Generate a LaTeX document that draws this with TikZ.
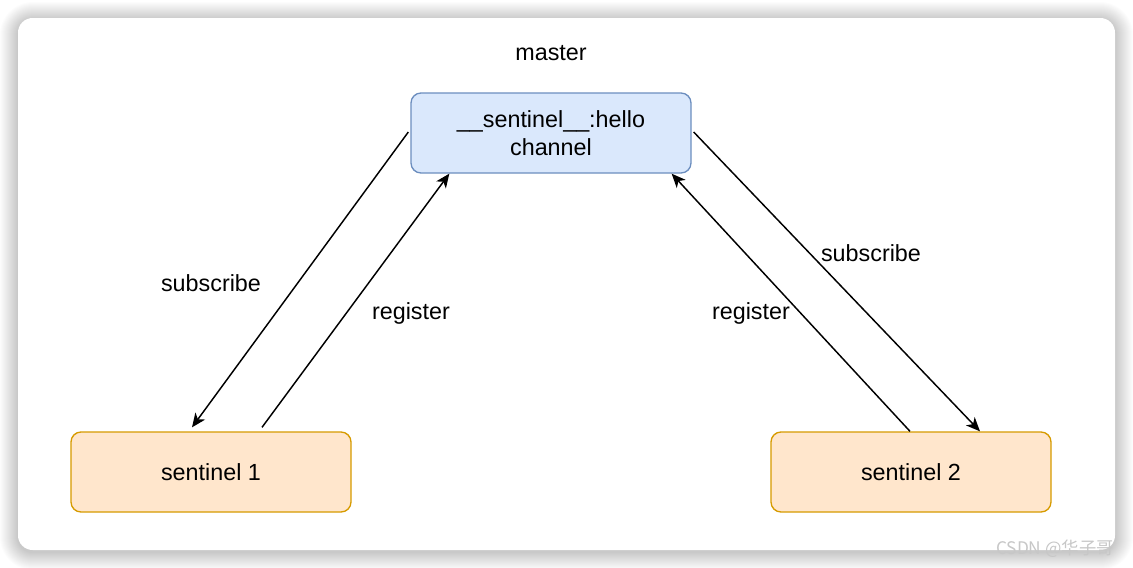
\documentclass[tikz,border=0pt]{standalone}
\usepackage{fontspec}
\setmainfont{Liberation Sans}
\newfontfamily\cjk{Noto Sans CJK SC}
\usetikzlibrary{arrows.meta,calc}
\definecolor{mfill}{HTML}{DAE8FC}
\definecolor{mdraw}{HTML}{6C8EBF}
\definecolor{sfill}{HTML}{FFE6CC}
\definecolor{sdraw}{HTML}{D79B00}
\tikzset{
  lbl/.style={font=\fontsize{17.5}{20}\selectfont, text=black, inner sep=0pt},
  masterbox/.style={draw=mdraw, fill=mfill, line width=1pt, rounded corners=7.5pt,
    minimum width=210pt, minimum height=60pt, inner sep=0pt, align=center,
    font=\fontsize{17.5}{20.5}\selectfont},
  sentbox/.style={draw=sdraw, fill=sfill, line width=1pt, rounded corners=7.5pt,
    minimum width=210pt, minimum height=60pt, inner sep=0pt, align=center,
    font=\fontsize{17.5}{20}\selectfont},
  conn/.style={draw=black, line width=1.1pt, -{Stealth[length=10.5pt,width=9pt,inset=3pt]}},
}
\begin{document}
\begin{tikzpicture}[x=0.75pt,y=-0.75pt]
\useasboundingbox (0,0) rectangle (1133,568);
\fill[white] (0,0) rectangle (1133,568);
% card shadow
\foreach \k in {1,...,18}{
  \fill[black, opacity=0.012, rounded corners={(15+\k)*0.75pt}] ($(18,20)+(-\k,-\k)$) rectangle ($(1115,552)+(\k,\k)$);
}
\fill[white, rounded corners=11pt] (18,18) rectangle (1115,550);
% watermark
\node[anchor=east, text=black!22, font=\cjk\fontsize{13}{15}\selectfont, inner sep=0pt] (wm) at (1114,549) {CSDN @华子哥};
% nodes
\node[lbl] (mlabel) at (551,53) {master};
\node[masterbox] (m) at (551,133) {\_\_sentinel\_\_:hello\\channel};
\node[sentbox] (s1) at (211,472) {sentinel 1};
\node[sentbox] (s2) at (911,472) {sentinel 2};
% connectors
\draw[conn] ($(m.west)+(-2,-1)$) -- ($(s1.north)+(-19,-4)$);
\draw[conn] ($(s1.north)+(51,-4)$) -- ($(m.south west)+(39,0)$);
\draw[conn] ($(s2.north)+(-1,0)$) -- ($(m.south east)+(-20,0)$);
\draw[conn] ($(m.east)+(2,-1)$) -- ($(s2.north)+(69,0)$);
% edge labels
\node[lbl] (l1) at (211,283) {subscribe};
\node[lbl] (l2) at (411,313) {register};
\node[lbl] (l3) at (751,313) {register};
\node[lbl] (l4) at (871,253) {subscribe};
\end{tikzpicture}
\end{document}
